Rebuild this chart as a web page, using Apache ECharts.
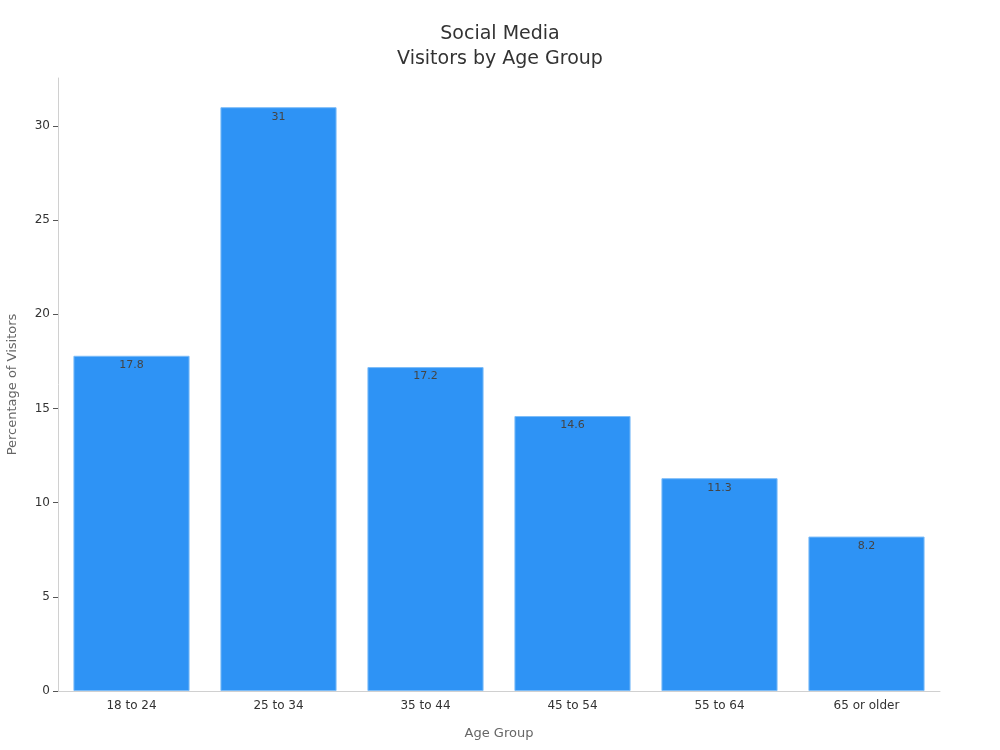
<!DOCTYPE html>
<html>
<head>
<meta charset="utf-8">
<script src="https://cdn.jsdelivr.net/npm/echarts@6/dist/echarts.min.js"></script>
<style>
html, body { margin: 0; padding: 0; background: #fff; }
#main { width: 1000px; height: 750px; }
</style>
</head>
<body>
<div id="main"></div>
<script>
var ageGroups = ['18 to 24', '25 to 34', '35 to 44', '45 to 54', '55 to 64', '65 or older'];
var visitorShare = [17.8, 31, 17.2, 14.6, 11.3, 8.2];
var yTicks = [0, 5, 10, 15, 20, 25, 30];

var myChart = echarts.init(document.getElementById('main'));

var option = {
    backgroundColor: '#ffffff',
    textStyle: {
        fontFamily: 'DejaVu Sans'
    },
    title: {
        text: 'Social Media\nVisitors by Age Group',
        left: 'center',
        top: 17,
        textStyle: {
            fontSize: 19,
            fontWeight: 'normal',
            color: '#333',
            lineHeight: 25
        }
    },
    grid: {
        left: 58,
        right: 60,
        top: 78,
        bottom: 59,
        outerBoundsMode: 'none'
    },
    xAxis: {
        type: 'category',
        data: ageGroups,
        name: 'Age Group',
        nameLocation: 'middle',
        nameGap: 36,
        nameTextStyle: {
            fontSize: 13,
            color: '#666'
        },
        axisLine: {
            lineStyle: { color: '#d0d0d0' }
        },
        axisTick: {
            alignWithLabel: true,
            length: 5,
            lineStyle: { color: '#555' }
        },
        axisLabel: {
            fontSize: 12,
            color: '#333',
            margin: 9
        }
    },
    yAxis: {
        type: 'value',
        min: 0,
        max: 32.55,
        name: 'Percentage of Visitors',
        nameLocation: 'middle',
        nameGap: 39,
        nameTextStyle: {
            fontSize: 13,
            color: '#666'
        },
        splitLine: { show: false },
        axisLine: {
            show: true,
            lineStyle: { color: '#d0d0d0' }
        },
        axisTick: {
            show: true,
            length: 5,
            customValues: yTicks,
            lineStyle: { color: '#555' }
        },
        axisLabel: {
            fontSize: 12,
            color: '#333',
            margin: 8,
            customValues: yTicks
        }
    },
    series: [
        {
            type: 'bar',
            data: visitorShare,
            barCategoryGap: '21%',
            itemStyle: {
                color: '#2e93f5',
                borderColor: '#7cbcf8',
                borderWidth: 1
            },
            label: {
                show: true,
                position: 'insideTop',
                distance: 4,
                fontSize: 11,
                color: '#444'
            }
        }
    ]
};

myChart.setOption(option);

window.onresize = function () {
    myChart.resize();
};
</script>
</body>
</html>
